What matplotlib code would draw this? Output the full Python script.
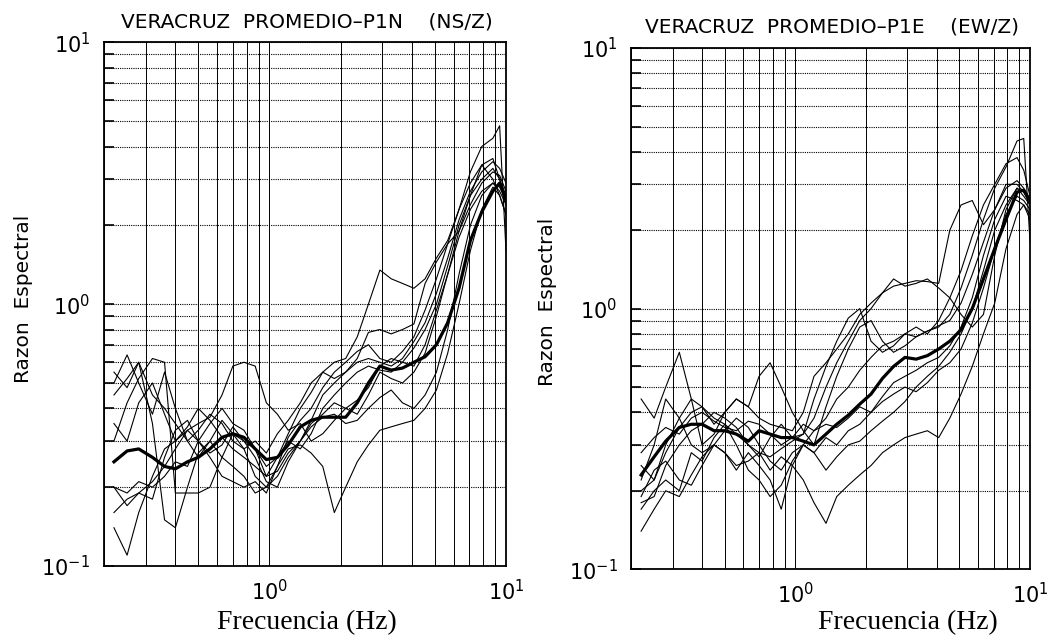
import numpy as np
import matplotlib.pyplot as plt
from matplotlib.ticker import LogLocator, NullFormatter

# frecuencias (Hz) comunes a todas las curvas
freq = [0.22, 0.25, 0.28, 0.32, 0.36, 0.40, 0.45, 0.50, 0.56, 0.63,
        0.70, 0.78, 0.87, 0.97, 1.08, 1.20, 1.35, 1.50, 1.68, 1.88,
        2.10, 2.35, 2.62, 2.93, 3.27, 3.65, 4.08, 4.55, 5.08, 5.67,
        6.33, 7.07, 7.90, 8.80, 9.40, 10.0]

# ---- NS/Z (P1N) ----
ns_mean = [0.25, 0.275, 0.28, 0.26, 0.24, 0.235, 0.25, 0.26, 0.28, 0.31,
           0.32, 0.31, 0.28, 0.255, 0.26, 0.29, 0.34, 0.36, 0.37, 0.37,
           0.37, 0.42, 0.50, 0.58, 0.56, 0.57, 0.60, 0.63, 0.70, 0.85,
           1.15, 1.75, 2.25, 2.70, 2.90, 2.50]
ns_1 = [0.35, 0.30, 0.42, 0.50, 0.38, 0.30, 0.34, 0.40, 0.36, 0.31,
        0.28, 0.26, 0.24, 0.22, 0.26, 0.32, 0.40, 0.46, 0.55, 0.60,
        0.62, 0.75, 1.00, 1.35, 1.25, 1.20, 1.15, 1.25, 1.50, 1.75,
        2.30, 3.20, 4.00, 4.30, 4.80, 1.60]
ns_2 = [0.20, 0.17, 0.19, 0.21, 0.24, 0.28, 0.33, 0.30, 0.27, 0.29,
        0.34, 0.30, 0.26, 0.21, 0.20, 0.25, 0.30, 0.36, 0.45, 0.50,
        0.55, 0.62, 0.78, 0.80, 0.77, 0.80, 0.84, 1.20, 1.45, 1.70,
        1.90, 2.60, 3.40, 3.60, 3.00, 2.40]
ns_3 = [0.14, 0.11, 0.16, 0.22, 0.28, 0.30, 0.33, 0.35, 0.37, 0.45,
        0.58, 0.60, 0.58, 0.42, 0.38, 0.33, 0.35, 0.30, 0.32, 0.36,
        0.40, 0.38, 0.45, 0.55, 0.52, 0.50, 0.55, 0.65, 0.90, 1.30,
        1.90, 2.40, 2.90, 3.20, 3.10, 2.70]
ns_4 = [0.55, 0.48, 0.60, 0.45, 0.40, 0.35, 0.30, 0.33, 0.38, 0.35,
        0.30, 0.28, 0.22, 0.20, 0.24, 0.28, 0.29, 0.27, 0.24, 0.16,
        0.20, 0.25, 0.29, 0.33, 0.34, 0.35, 0.36, 0.40, 0.47, 0.65,
        1.00, 1.60, 2.30, 2.80, 2.60, 2.20]
ns_5 = [0.50, 0.64, 0.50, 0.38, 0.55, 0.40, 0.30, 0.26, 0.30, 0.36,
        0.32, 0.28, 0.30, 0.27, 0.32, 0.36, 0.42, 0.50, 0.55, 0.52,
        0.55, 0.60, 0.62, 0.60, 0.58, 0.62, 0.72, 0.85, 1.10, 1.50,
        2.10, 2.70, 3.20, 3.50, 3.30, 2.90]
ns_6 = [0.30, 0.42, 0.52, 0.62, 0.60, 0.19, 0.19, 0.19, 0.20, 0.26,
        0.32, 0.30, 0.28, 0.24, 0.26, 0.30, 0.28, 0.32, 0.40, 0.45,
        0.50, 0.55, 0.58, 0.56, 0.55, 0.60, 0.68, 0.80, 1.00, 1.40,
        2.00, 2.60, 3.00, 3.30, 3.00, 2.60]
ns_7 = [0.20, 0.19, 0.21, 0.20, 0.22, 0.25, 0.24, 0.30, 0.35, 0.40,
        0.35, 0.33, 0.28, 0.22, 0.23, 0.27, 0.30, 0.35, 0.38, 0.42,
        0.40, 0.43, 0.48, 0.58, 0.62, 0.60, 0.58, 0.70, 0.95, 1.30,
        1.80, 2.30, 2.70, 2.90, 2.70, 2.40]
ns_8 = [0.45, 0.52, 0.60, 0.35, 0.15, 0.14, 0.20, 0.27, 0.30, 0.26,
        0.24, 0.22, 0.19, 0.20, 0.22, 0.26, 0.30, 0.34, 0.37, 0.38,
        0.35, 0.36, 0.40, 0.44, 0.47, 0.42, 0.40, 0.45, 0.55, 0.80,
        1.30, 2.00, 2.60, 2.90, 2.80, 2.50]
ns_9 = [0.16, 0.18, 0.19, 0.18, 0.26, 0.33, 0.36, 0.30, 0.26, 0.22,
        0.21, 0.20, 0.21, 0.19, 0.24, 0.31, 0.36, 0.40, 0.48, 0.55,
        0.60, 0.66, 0.70, 0.62, 0.60, 0.66, 0.75, 0.95, 1.25, 1.70,
        2.30, 2.90, 3.40, 3.00, 2.60, 2.20]
ns_curves = [ns_1, ns_2, ns_3, ns_4, ns_5, ns_6, ns_7, ns_8, ns_9]

# ---- EW/Z (P1E) ----
ew_mean = [0.23, 0.27, 0.31, 0.35, 0.36, 0.36, 0.34, 0.34, 0.33, 0.31,
           0.34, 0.33, 0.32, 0.32, 0.31, 0.30, 0.33, 0.36, 0.39, 0.43,
           0.47, 0.54, 0.60, 0.65, 0.64, 0.66, 0.70, 0.75, 0.83, 1.00,
           1.30, 1.70, 2.20, 2.80, 2.85, 2.60]
ew_1 = [0.20, 0.22, 0.30, 0.38, 0.45, 0.42, 0.36, 0.40, 0.45, 0.42,
        0.38, 0.36, 0.35, 0.34, 0.40, 0.55, 0.62, 0.70, 0.80, 0.95,
        1.05, 1.15, 1.22, 1.25, 1.28, 1.27, 1.25, 2.00, 2.50, 2.60,
        2.10, 2.40, 3.00, 3.00, 2.80, 2.50]
ew_2 = [0.18, 0.19, 0.25, 0.30, 0.34, 0.36, 0.40, 0.38, 0.35, 0.30,
        0.27, 0.32, 0.36, 0.32, 0.33, 0.38, 0.50, 0.62, 0.75, 0.90,
        1.00, 1.15, 1.30, 1.22, 1.25, 1.30, 1.20, 1.10, 0.95, 0.85,
        0.95, 1.60, 2.40, 2.90, 2.80, 2.60]
ew_3 = [0.14, 0.17, 0.20, 0.19, 0.23, 0.27, 0.30, 0.28, 0.25, 0.26,
        0.28, 0.24, 0.27, 0.25, 0.22, 0.18, 0.15, 0.19, 0.21, 0.23,
        0.25, 0.28, 0.30, 0.32, 0.33, 0.34, 0.32, 0.38, 0.47, 0.60,
        0.80, 1.05, 1.70, 2.30, 2.50, 2.20]
ew_4 = [0.22, 0.30, 0.45, 0.38, 0.30, 0.28, 0.30, 0.34, 0.38, 0.35,
        0.30, 0.26, 0.24, 0.28, 0.30, 0.34, 0.36, 0.35, 0.38, 0.42,
        0.40, 0.44, 0.47, 0.50, 0.48, 0.52, 0.58, 0.62, 0.70, 0.88,
        1.20, 1.70, 2.30, 2.70, 2.60, 2.40]
ew_5 = [0.45, 0.38, 0.50, 0.68, 0.45, 0.30, 0.33, 0.40, 0.45, 0.42,
        0.55, 0.62, 0.50, 0.40, 0.34, 0.30, 0.42, 0.55, 0.70, 0.85,
        0.90, 0.75, 0.68, 0.72, 0.78, 0.82, 0.85, 0.95, 1.20, 1.60,
        2.20, 2.90, 3.50, 4.40, 4.50, 1.80]
ew_6 = [0.25, 0.22, 0.28, 0.35, 0.40, 0.42, 0.38, 0.36, 0.33, 0.30,
        0.28, 0.27, 0.29, 0.31, 0.33, 0.45, 0.60, 0.75, 0.92, 1.00,
        0.75, 0.68, 0.72, 0.80, 0.85, 0.80, 0.90, 1.10, 1.40, 1.90,
        2.50, 3.00, 3.60, 3.80, 3.40, 2.70]
ew_7 = [0.17, 0.20, 0.22, 0.20, 0.28, 0.26, 0.32, 0.36, 0.30, 0.24,
        0.22, 0.19, 0.21, 0.26, 0.30, 0.28, 0.32, 0.30, 0.34, 0.36,
        0.40, 0.46, 0.52, 0.55, 0.58, 0.62, 0.65, 0.72, 0.85, 1.10,
        1.60, 2.20, 2.70, 2.60, 2.50, 2.30]
ew_8 = [0.19, 0.24, 0.26, 0.22, 0.21, 0.25, 0.30, 0.28, 0.24, 0.28,
        0.25, 0.22, 0.17, 0.25, 0.30, 0.28, 0.24, 0.27, 0.30, 0.31,
        0.34, 0.37, 0.40, 0.44, 0.50, 0.55, 0.60, 0.68, 0.80, 1.00,
        1.40, 2.00, 2.50, 2.90, 2.70, 2.50]
ew_9 = [0.28, 0.32, 0.35, 0.33, 0.38, 0.40, 0.37, 0.35, 0.34, 0.37,
        0.36, 0.33, 0.30, 0.32, 0.36, 0.34, 0.38, 0.45, 0.50, 0.58,
        0.65, 0.72, 0.75, 0.80, 0.78, 0.82, 0.86, 0.90, 1.05, 1.35,
        1.80, 2.40, 2.90, 3.10, 2.90, 2.60]
ew_curves = [ew_1, ew_2, ew_3, ew_4, ew_5, ew_6, ew_7, ew_8, ew_9]


def draw_panel(ax, curves, mean):
    for c in curves:
        ax.plot(freq, c, color='black', lw=0.8)
    ax.plot(freq, mean, color='black', lw=2.3)

    ax.set_xscale('log')
    ax.set_yscale('log')
    ax.set_xlim(0.2, 10)
    ax.set_ylim(0.1, 10)
    for axis in (ax.xaxis, ax.yaxis):
        axis.set_major_locator(LogLocator(base=10, numticks=6))
        axis.set_minor_locator(LogLocator(base=10, subs=np.arange(2, 10), numticks=30))
        axis.set_minor_formatter(NullFormatter())

    # rejilla: verticales continuas, horizontales punteadas
    ax.grid(which='both', axis='x', color='black', lw=0.7, ls='-')
    ax.grid(which='both', axis='y', color='black', lw=0.8, ls=(0, (1, 1)))
    ax.set_axisbelow(True)

    ax.tick_params(axis='y', which='both', direction='in', length=7, width=1.2,
                   labelsize=15, pad=10)
    ax.tick_params(axis='x', which='both', length=0, labelsize=15, pad=9)
    for s in ax.spines.values():
        s.set_linewidth(1.3)


fig = plt.figure(figsize=(10.63, 6.41), dpi=100)
ax1 = fig.add_axes([0.098, 0.117, 0.378, 0.817])
ax2 = fig.add_axes([0.594, 0.112, 0.375, 0.813])

draw_panel(ax1, ns_curves, ns_mean)
draw_panel(ax2, ew_curves, ew_mean)

fig.text(0.289, 0.966, "VERACRUZ  PROMEDIO\u2013P1N    (NS/Z)", ha='center', va='center',
         fontsize=14.5)
fig.text(0.783, 0.958, "VERACRUZ  PROMEDIO\u2013P1E    (EW/Z)", ha='center', va='center',
         fontsize=14.5)

fig.text(0.022, 0.533, "Razon  Espectral", rotation=90, ha='center', va='center', fontsize=14.5)
fig.text(0.515, 0.529, "Razon  Espectral", rotation=90, ha='center', va='center', fontsize=14.5)

fig.text(0.289, 0.029, "Frecuencia (Hz)", ha='center', va='center',
         family='Liberation Serif', fontsize=20)
fig.text(0.854, 0.029, "Frecuencia (Hz)", ha='center', va='center',
         family='Liberation Serif', fontsize=20)

fig.savefig("out.png", dpi=100)
